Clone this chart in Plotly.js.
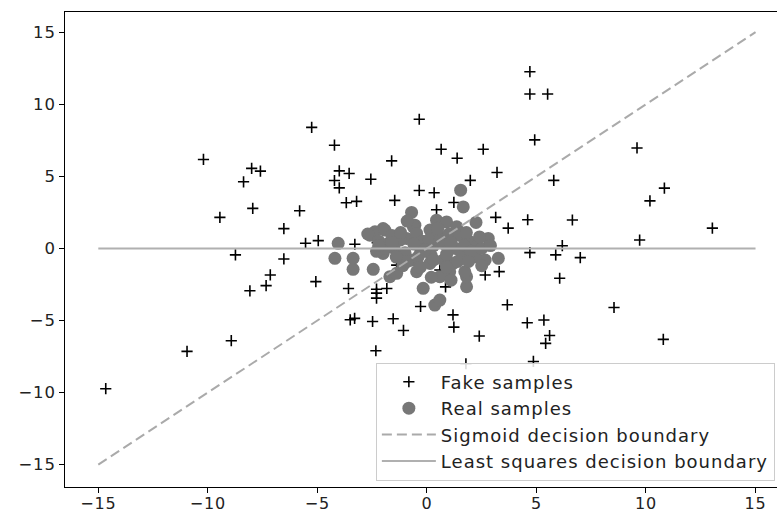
<!DOCTYPE html>
<html>
<head>
<meta charset="utf-8">
<script src="https://cdn.plot.ly/plotly-3.0.1.min.js"></script>
<style>
html,body{margin:0;padding:0;background:#fff;}
#chart{width:777px;height:515px;}
.legendtext{letter-spacing:1px;}
.xtick text,.ytick text{letter-spacing:0.8px;}
</style>
</head>
<body>
<div id="chart"></div>
<script>
// Fake samples (black "+")
var fakeX = [-5.26,-10.2,-8.0,-7.6,-8.37,-7.95,-9.45,-5.81,-6.53,-5.54,-4.96,-8.74,-6.53,-7.15,-7.34,-8.08,-5.07,-8.93,-10.95,-14.66,
  -4.22,-4.0,-3.55,-4.22,-4.0,-2.56,-1.61,-0.35,0.65,1.38,2.57,3.2,1.98,4.7,4.7,5.51,4.92,5.79,-3.68,-3.21,
  -1.47,-0.35,0.33,1.23,0.44,3.14,3.71,4.6,-3.29,-2.27,1.61,9.59,10.84,10.18,6.64,13.03,6.18,9.71,5.88,7.0,
  6.06,8.54,5.34,5.6,5.42,10.79,-3.58,-2.3,-2.3,-2.3,-1.83,0.59,0.85,2.66,3.3,4.7,3.67,-0.29,1.19,1.23,
  -3.5,-3.3,-2.48,-1.54,-1.07,-2.33,2.39,4.58,1.78,4.86,0.0,-1.38];
var fakeY = [8.4,6.17,5.55,5.36,4.62,2.78,2.15,2.61,1.37,0.36,0.54,-0.45,-0.73,-1.84,-2.58,-2.94,-2.3,-6.4,-7.14,-9.73,
  7.16,5.38,5.2,4.71,4.2,4.8,6.07,8.96,6.88,6.26,6.88,5.27,4.72,12.26,10.71,10.71,7.53,4.72,3.17,3.26,
  3.33,4.02,3.86,3.19,2.68,2.15,1.41,1.99,0.29,0.4,0.75,6.97,4.18,3.3,1.97,1.41,0.19,0.58,-0.45,-0.64,
  -2.07,-4.1,-4.97,-6.04,-6.59,-6.31,-2.78,-2.83,-3.1,-3.45,-2.78,-1.5,-2.67,-1.84,-1.61,-0.29,-3.91,-4.03,-4.61,-5.46,
  -4.95,-4.85,-5.07,-4.88,-5.69,-7.1,-6.08,-5.16,-8.0,-7.84,0.8,-1.16];

// Real samples (gray circles)
var realX = [-4.05,-4.2,-3.37,-3.37,-2.45,-2.0,-1.69,-1.38,-0.78,-2.6,-2.0,-2.37,-1.38,-0.93,-0.55,-0.7,1.54,1.66,2.24,2.8,
  0.44,0.9,1.36,-1.92,-0.62,-0.47,0.14,-1.23,1.96,3.26,1.81,1.81,1.73,1.04,0.59,-0.17,0.36,0.59,2.66,2.2,
  1.2,0.75,0.14,-0.47,-0.62,-1.5,-1.0,-0.3,0.3,0.8,1.3,1.6,2.3,-0.2,0.5,1.0,-1.8,-2.3,-0.9,0.0,
  -1.1,0.2,0.9,1.5,
  -2.2,-1.6,-1.2,-0.6,0.1,0.6,1.1,1.7,2.0,2.5,-0.9,-0.4,0.3,0.9,1.4,-1.4,-1.9,0.5,1.8,2.4,
  -0.3,1.1,0.2,2.5,-2.7,-2.2,-0.1,1.9,2.9,-1.6];
var realY = [0.35,-0.69,-0.69,-1.45,-1.45,-0.35,-1.96,-1.73,-0.81,0.92,1.38,1.15,0.69,0.69,1.61,2.5,4.04,2.88,1.8,0.69,
  1.96,1.84,1.5,1.27,1.5,1.04,1.27,0.58,0.46,-0.69,-2.66,-1.96,-1.62,-1.62,-1.96,-2.77,-3.93,-3.58,-0.81,-0.58,
  -1.04,-0.81,-1.04,-1.62,-0.81,0.0,-0.3,-0.3,0.2,0.3,0.0,-0.4,0.2,0.5,0.9,1.0,0.3,-0.2,1.9,0.0,
  -1.2,-0.5,-0.4,0.9,
  0.5,0.9,1.1,0.3,0.6,0.5,0.4,0.2,-0.2,0.0,-0.9,-0.6,-0.8,-1.3,-0.9,-0.6,0.0,1.4,1.1,0.8,
  -1.3,-2.2,-2.0,-1.2,1.0,0.2,-0.1,-0.9,0.2,0.4];

// Decision boundaries
var sigmoidX = [-15, 15];
var sigmoidY = [-15, 15];
var lsqX = [-15, 15];
var lsqY = [0, 0];

var tickVals = [-15, -10, -5, 0, 5, 10, 15];
var tickText = ['\u221215', '\u221210', '\u22125', '0', '5', '10', '15'];

var traces = [
  {x: fakeX, y: fakeY, type: 'scatter', mode: 'markers', name: 'Fake samples',
   marker: {symbol: 'cross-thin', size: 8, color: '#000', line: {color: '#000', width: 1.6}}},
  {x: realX, y: realY, type: 'scatter', mode: 'markers', name: 'Real samples',
   marker: {symbol: 'circle', size: 13, color: '#777777', line: {width: 0}}},
  {x: sigmoidX, y: sigmoidY, type: 'scatter', mode: 'lines', name: 'Sigmoid decision boundary',
   line: {color: '#aaaaaa', width: 2, dash: '10px,5px'}},
  {x: lsqX, y: lsqY, type: 'scatter', mode: 'lines', name: 'Least squares decision boundary',
   line: {color: '#b0b0b0', width: 2}}
];

var layout = {
  width: 777, height: 515,
  margin: {l: 65, r: 0, t: 12, b: 28, pad: 0},
  paper_bgcolor: '#fff', plot_bgcolor: '#fff',
  font: {family: 'DejaVu Sans', size: 16, color: '#222'},
  showlegend: true,
  legend: {
    x: 0.997, xanchor: 'right', y: 0.262, yanchor: 'top',
    bgcolor: 'rgba(255,255,255,0.85)', bordercolor: '#cccccc', borderwidth: 1,
    font: {family: 'DejaVu Sans', size: 18, color: '#222'},
    traceorder: 'normal', itemwidth: 54
  },
  xaxis: {
    range: [-16.52, 15.98], tickvals: tickVals, ticktext: tickText,
    showgrid: false, zeroline: false, showline: true, linecolor: '#000', linewidth: 1, mirror: true,
    ticks: 'outside', ticklen: 5, tickwidth: 1, tickcolor: '#000', ticklabelstandoff: -3,
    tickfont: {family: 'DejaVu Sans', size: 16, color: '#222'}
  },
  yaxis: {
    range: [-16.55, 16.4], tickvals: tickVals, ticktext: tickText,
    showgrid: false, zeroline: false, showline: true, linecolor: '#000', linewidth: 1, mirror: false,
    ticks: 'outside', ticklen: 5, tickwidth: 1, tickcolor: '#000',
    tickfont: {family: 'DejaVu Sans', size: 16.5, color: '#222'}
  }
};

Plotly.newPlot('chart', traces, layout, {displayModeBar: false, staticPlot: true});
</script>
</body>
</html>
